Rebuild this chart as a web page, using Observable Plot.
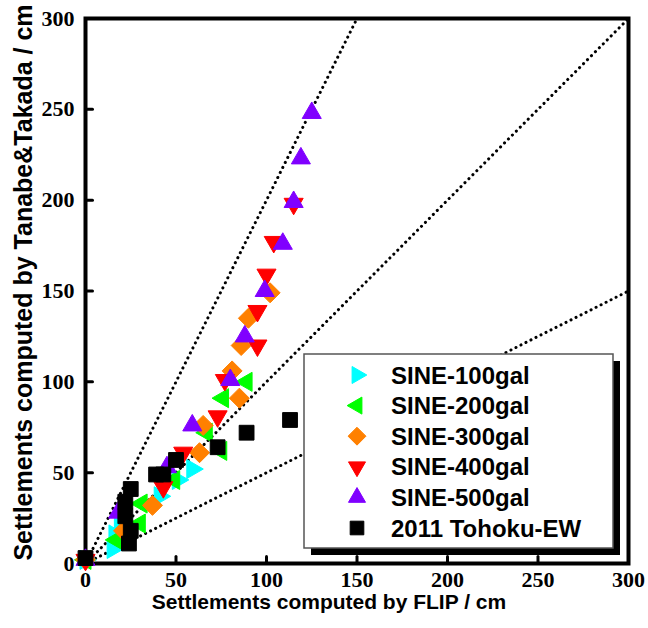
<!DOCTYPE html>
<html><head><meta charset="utf-8">
<script src="https://cdn.jsdelivr.net/npm/d3@7"></script>
<script src="https://cdn.jsdelivr.net/npm/@observablehq/plot@0.6"></script>
<style>body{margin:0;background:#fff} #chart svg{display:block}</style>
</head><body><div id="chart"></div>
<script>
// ---- data ----
const seriesNames = ["SINE-100gal","SINE-200gal","SINE-300gal","SINE-400gal","SINE-500gal","2011 Tohoku-EW"];
const seriesColors = ["#00FFFF","#00FF00","#FF8000","#FF0000","#8000FF","#000000"];
const sine100X = [0,15,16,19,41,51,59];
const sine100Y = [2,8,16,22,37,46,52];
const sine200X = [0,17,30,31,49,67,75,76,89];
const sine200Y = [2,13,22,33,46,72,62,91,100];
const sine300X = [0,21,37,63,65,85,81,86,90,102];
const sine300Y = [2,18,32,61,76,91,106,120,135,149];
const sine400X = [0,43,54,73,77,95,95,100,104,115];
const sine400Y = [2,42,61,81,101,120,139,159,177,198];
const sine500X = [0,18,45,59,80,88,99,109,115,119,125];
const sine500Y = [2,28,53,76,101,125,150,176,199,223,248];
const tohokuX = [0,24,25,22,22,25,39,43,50,73,89,113];
const tohokuY = [3,11,18,26,34,41,49,49,57,64,72,79];
const refSlopes = [2, 1, 0.5];
const xTicks = [0,50,100,150,200,250,300];
const yTicks = [0,50,100,150,200,250,300];
const xLabel = "Settlements computed by FLIP / cm";
const yLabel = "Settlements computed by Tanabe&Takada / cm";

// ---- symbols ----
function poly(pts){ return {draw(ctx, size){ const r = Math.sqrt(size/Math.PI);
  pts.forEach(([a,b],i)=> i? ctx.lineTo(a*r,b*r) : ctx.moveTo(a*r,b*r)); ctx.closePath(); }}; }
const s3 = Math.sqrt(3)/2;
const triRight = poly([[1,0],[-0.5,-s3],[-0.5,s3]]);
const triLeft  = poly([[-1,0],[0.5,-s3],[0.5,s3]]);
const triDown  = poly([[0,1],[-s3,-0.5],[s3,-0.5]]);
const triUp    = poly([[0,-1],[-s3,0.5],[s3,0.5]]);
const diamond  = poly([[0,-1],[1,0],[0,1],[-1,0]]);
const square   = poly([[-1,-1],[1,-1],[1,1],[-1,1]]);
const symbols = [triRight, triLeft, diamond, triDown, triUp, square];
const radii = [11, 11, 10, 11, 11, 7.4];

const series = [[sine100X,sine100Y],[sine200X,sine200Y],[sine300X,sine300Y],[sine400X,sine400Y],[sine500X,sine500Y],[tohokuX,tohokuY]];

const serif = "'Liberation Serif','Times New Roman',serif";
const sans = "'Liberation Sans',Arial,sans-serif";

const dotMarks = series.map(([xs,ys],k) => Plot.dot(xs.map((x,i)=>({x, y: ys[i]})), {
  x:"x", y:"y", symbol: symbols[k], r: radii[k], fill: seriesColors[k], stroke: seriesColors[k],
  strokeWidth: 1, strokeLinejoin: "round"
}));

const tickShape = {draw(c,l){c.moveTo(0,0);c.lineTo(0,-l);}};

const chart = Plot.plot({
  width: 648, height: 628,
  marginLeft: 85, marginRight: 20, marginTop: 18, marginBottom: 65,
  x: {domain: [0,300], axis: null},
  y: {domain: [0,300], axis: null},
  style: {background: "white"},
  marks: [
    Plot.link(refSlopes, {x1: 0, y1: 0, x2: k => Math.min(300, 300/k), y2: k => Math.min(300, 300*k),
      stroke: "black", strokeWidth: 3, strokeDasharray: "0.1 5.5", strokeLinecap: "round"}),
    Plot.frame({stroke: "black", strokeWidth: 4}),
    Plot.vector(xTicks.slice(1,-1), {x: d => d, y: 0, length: 7, rotate: 0, anchor: "start", stroke: "black", strokeWidth: 3, shape: tickShape}),
    Plot.vector(yTicks.slice(1,-1), {x: 0, y: d => d, length: 7, rotate: 90, anchor: "start", stroke: "black", strokeWidth: 3, shape: tickShape}),
    Plot.text(xTicks, {x: d => d, y: 0, dy: 16, text: d => String(d), fontFamily: serif, fontWeight: "bold", fontSize: 22, fill: "black"}),
    Plot.text(yTicks, {x: 0, y: d => d, dx: -11, text: d => String(d), textAnchor: "end", fontFamily: serif, fontWeight: "bold", fontSize: 22, fill: "black"}),
    Plot.text([xLabel], {frameAnchor: "bottom", textAnchor: "middle", dx: -28, dy: 45, text: d => d, fontFamily: sans, fontWeight: "bold", fontSize: 21, fill: "black"}),
    Plot.text([yLabel], {frameAnchor: "left", textAnchor: "middle", rotate: -90, dx: -62, dy: -8.5, text: d => d, fontFamily: sans, fontWeight: "bold", fontSize: 25, fill: "black"}),
    ...dotMarks
  ]
});
document.getElementById("chart").append(chart);

// ---- legend (inside the plot area) ----
const svg = d3.select(chart);
const lg = svg.append("g").attr("class","legend");
const L = {x: 304, y: 354, w: 309, h: 194};
lg.append("rect").attr("x", L.x+7).attr("y", L.y+7).attr("width", L.w).attr("height", L.h).attr("fill","black");
lg.append("rect").attr("x", L.x).attr("y", L.y).attr("width", L.w).attr("height", L.h).attr("fill","white").attr("stroke","#555").attr("stroke-width",1.5);
seriesNames.forEach((name,k) => {
  const cy = 375 + k*30.6;
  const p = d3.path(); symbols[k].draw(p, radii[k]*radii[k]*Math.PI*(k===5?0.85:0.8));
  lg.append("path").attr("d", p.toString()).attr("transform", `translate(357,${cy})`)
    .attr("fill", seriesColors[k]).attr("stroke", seriesColors[k]).attr("stroke-linejoin","round");
  lg.append("text").attr("x", 391).attr("y", cy).attr("dy","0.36em").attr("text-anchor","start").text(name)
    .attr("font-family", sans).attr("font-weight","bold").attr("font-size", 24).attr("fill","black");
});
</script>
</body></html>
